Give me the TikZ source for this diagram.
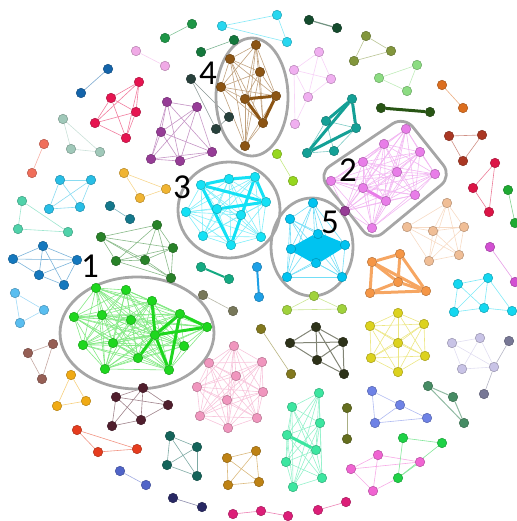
\documentclass[tikz,border=0pt]{standalone}
\usepackage{fontspec}
\setmainfont{Carlito}
\usetikzlibrary{backgrounds}
\definecolor{grnA}{RGB}{30,215,30}
\definecolor{vio}{RGB}{232,125,232}
\definecolor{cyn}{RGB}{20,225,245}
\definecolor{brn}{RGB}{140,85,20}
\definecolor{sky}{RGB}{0,195,240}
\definecolor{sage}{RGB}{160,200,185}
\definecolor{crim}{RGB}{230,20,80}
\definecolor{purp}{RGB}{150,60,150}
\definecolor{slate}{RGB}{40,65,60}
\definecolor{grnB}{RGB}{30,150,70}
\definecolor{grnC}{RGB}{20,120,60}
\definecolor{pinkA}{RGB}{240,170,230}
\definecolor{bluA}{RGB}{20,100,170}
\definecolor{cynB}{RGB}{40,215,240}
\definecolor{grnD}{RGB}{20,75,45}
\definecolor{oliv}{RGB}{130,150,60}
\definecolor{lgrn}{RGB}{140,220,130}
\definecolor{orgA}{RGB}{220,110,30}
\definecolor{dgrn}{RGB}{40,85,20}
\definecolor{lav}{RGB}{240,175,240}
\definecolor{tealA}{RGB}{20,160,150}
\definecolor{ygrn}{RGB}{150,215,30}
\definecolor{rust}{RGB}{170,55,35}
\definecolor{crimB}{RGB}{220,20,70}
\definecolor{grnE}{RGB}{30,170,50}
\definecolor{peach}{RGB}{240,190,150}
\definecolor{vioB}{RGB}{210,80,210}
\definecolor{cynC}{RGB}{20,215,240}
\definecolor{org}{RGB}{245,150,70}
\definecolor{ygrnB}{RGB}{160,210,60}
\definecolor{olivB}{RGB}{130,120,30}
\definecolor{dolv}{RGB}{45,50,25}
\definecolor{yel}{RGB}{220,210,30}
\definecolor{lgray}{RGB}{200,195,230}
\definecolor{slateB}{RGB}{120,120,150}
\definecolor{seag}{RGB}{70,140,100}
\definecolor{peri}{RGB}{110,130,230}
\definecolor{olivC}{RGB}{100,110,30}
\definecolor{aqua}{RGB}{60,230,160}
\definecolor{pinkB}{RGB}{240,100,210}
\definecolor{grnF}{RGB}{30,210,70}
\definecolor{mag}{RGB}{220,30,120}
\definecolor{navyA}{RGB}{40,40,100}
\definecolor{bviol}{RGB}{80,100,200}
\definecolor{dteal}{RGB}{20,100,90}
\definecolor{goldA}{RGB}{190,130,20}
\definecolor{redA}{RGB}{230,60,30}
\definecolor{maroon}{RGB}{80,30,45}
\definecolor{yelB}{RGB}{240,170,20}
\definecolor{brnB}{RGB}{150,95,85}
\definecolor{skyB}{RGB}{90,190,240}
\definecolor{bluB}{RGB}{20,120,190}
\definecolor{dgrnB}{RGB}{40,130,40}
\definecolor{tealB}{RGB}{20,120,140}
\definecolor{aquaB}{RGB}{80,210,170}
\definecolor{lblu}{RGB}{40,190,230}
\definecolor{yorg}{RGB}{240,180,50}
\definecolor{salm}{RGB}{240,110,90}
\definecolor{tealC}{RGB}{20,170,130}
\definecolor{golv}{RGB}{120,120,90}
\definecolor{skyC}{RGB}{30,160,230}
\definecolor{pinkC}{RGB}{240,150,190}
\begin{document}
\begin{tikzpicture}[x=1pt, y=-1pt,
  nd/.style={circle, inner sep=0pt, minimum size=9.5pt, draw=#1!75!black, fill=#1, line width=0.5pt},
  ln/.style={draw=#1!55, line width=0.6pt},
  tk/.style={draw=#1, line width=3pt},
  hull/.style={draw=black!35, line width=2.8pt},
  num/.style={font=\fontsize{35}{35}\selectfont, inner sep=0pt}
]
  \useasboundingbox (0,0) rectangle (516,521);

  % hulls round the five communities
  \draw[hull] (137,333) ellipse [x radius=77pt, y radius=56pt];
  \draw[hull, rounded corners=14pt] (318,174) -- (404,116) -- (452,176) -- (372,242) -- cycle;
  \draw[hull] (229,210) ellipse [x radius=51pt, y radius=48pt];
  \draw[hull] (252,97) ellipse [x radius=36pt, y radius=59pt];
  \draw[hull] (312,247) ellipse [x radius=41pt, y radius=49pt];

  % community 1
  \foreach [count=\i] \p in {(96,288),(126,290),(152,301),(180,314),(207,327),(74,317),(102,315),(131,320),(155,335),(184,346),(83,345),(113,343),(138,358),(105,369),(169,370)}
    \node[nd=grnA] (a\i) at \p {};
  % community 2
  \foreach [count=\i] \p in {(406,129),(384,144),(420,152),(363,162),(397,172),(435,174),(331,181),(363,188),(386,201),(415,195),(345,211),(372,228)}
    \node[nd=vio] (b\i) at \p {};
  \node[nd=purp] at (b11) {};
  % community 3
  \foreach [count=\i] \p in {(201,185),(229,179),(255,177),(266,202),(186,212),(217,209),(241,215),(203,236),(231,245),(261,237)}
    \node[nd=cyn] (c\i) at \p {};
  % community 4
  \foreach [count=\i] \p in {(256,45),(230,59),(260,72),(221,87),(245,99),(276,96),(263,123),(245,146)}
    \node[nd=brn] (d\i) at \p {};
  % community 5
  \foreach [count=\i] \p in {(313,203),(290,219),(291,249),(318,234),(345,245),(316,263),(287,277),(342,277)}
    \node[nd=sky] (e\i) at \p {};

  % the small groups
  \foreach [count=\i] \p in {(63,119),(71,149),(100,152)} \node[nd=sage] (sg\i) at \p {};
  \foreach [count=\i] \p in {(139,82),(111,98),(136,112),(95,123),(126,138)} \node[nd=crim] (cr\i) at \p {};
  \foreach [count=\i] \p in {(167,102),(197,107),(161,132),(151,159),(180,161),(212,152)} \node[nd=purp] (pu\i) at \p {};
  \foreach [count=\i] \p in {(191,79),(229,117),(216,129)} \node[nd=slate] (sl\i) at \p {};
  \foreach [count=\i] \p in {(165,38),(192,24)} \node[nd=grnB] (gb\i) at \p {};
  \foreach [count=\i] \p in {(201,52),(234,40)} \node[nd=grnC] (gc\i) at \p {};
  \foreach [count=\i] \p in {(136,51),(165,66)} \node[nd=pinkA] (pa\i) at \p {};
  \foreach [count=\i] \p in {(108,69),(81,93)} \node[nd=bluA] (ba\i) at \p {};
  \foreach [count=\i] \p in {(222,26),(277,15),(287,42)} \node[nd=cynB] (cb\i) at \p {};
  \foreach [count=\i] \p in {(309,20),(337,28)} \node[nd=grnD] (gd\i) at \p {};
  \foreach [count=\i] \p in {(366,36),(391,51),(354,61)} \node[nd=oliv] (ol\i) at \p {};
  \foreach [count=\i] \p in {(417,65),(379,78),(407,91)} \node[nd=lgrn] (lg\i) at \p {};
  \foreach [count=\i] \p in {(442,85),(463,108)} \node[nd=orgA] (oa\i) at \p {};
  \foreach [count=\i] \p in {(381,108),(430,112)} \node[nd=dgrn] (dg\i) at \p {};
  \foreach [count=\i] \p in {(319,52),(294,70),(331,79),(308,97),(295,124)} \node[nd=lav] (lv\i) at \p {};
  \foreach [count=\i] \p in {(352,99),(326,121),(356,128),(307,153),(334,151)} \node[nd=tealA] (ta\i) at \p {};
  \foreach [count=\i] \p in {(277,154),(293,181)} \node[nd=ygrn] (yg\i) at \p {};
  \foreach [count=\i] \p in {(449,136),(482,135),(463,161)} \node[nd=rust] (ru\i) at \p {};
  \foreach [count=\i] \p in {(495,163),(473,188),(489,212)} \node[nd=crimB] (ck\i) at \p {};
  \foreach [count=\i] \p in {(508,190),(515,223)} \node[nd=grnE] (ge\i) at \p {};
  \foreach [count=\i] \p in {(447,203),(407,227),(433,231),(464,227),(429,261),(459,255)} \node[nd=peach] (pe\i) at \p {};
  \foreach [count=\i] \p in {(490,247),(515,282)} \node[nd=vioB] (vb\i) at \p {};
  \foreach [count=\i] \p in {(458,284),(488,278),(454,312),(484,308),(512,311)} \node[nd=cynC] (cc\i) at \p {};
  \foreach [count=\i] \p in {(372,262),(400,254),(398,282),(370,293),(426,291)} \node[nd=org] (or\i) at \p {};
  \foreach [count=\i] \p in {(314,296),(287,310),(342,309)} \node[nd=ygrnB] (yb\i) at \p {};
  \foreach [count=\i] \p in {(261,329),(291,374)} \node[nd=olivB] (ob\i) at \p {};
  \foreach [count=\i] \p in {(316,327),(290,343),(343,342),(317,360),(344,374)} \node[nd=dolv] (dv\i) at \p {};
  \foreach [count=\i] \p in {(398,313),(370,326),(424,324),(398,343),(371,358),(425,356),(398,372)} \node[nd=yel] (ye\i) at \p {};
  \foreach [count=\i] \p in {(452,343),(480,338),(462,369),(494,367)} \node[nd=lgray] (lr\i) at \p {};
  \foreach [count=\i] \p in {(509,341),(484,394)} \node[nd=slateB] (sb\i) at \p {};
  \foreach [count=\i] \p in {(428,386),(453,397),(464,423)} \node[nd=seag] (se\i) at \p {};
  \foreach [count=\i] \p in {(372,391),(400,405),(375,423),(427,418)} \node[nd=peri] (pr\i) at \p {};
  \foreach [count=\i] \p in {(347,408),(347,439)} \node[nd=olivC] (oc\i) at \p {};
  \foreach [count=\i] \p in {(319,393),(292,407),(320,423),(287,435),(316,450),(286,462),(322,478),(293,487)} \node[nd=aqua] (aq\i) at \p {};
  \foreach [count=\i] \p in {(378,455),(351,469),(420,462),(373,491)} \node[nd=pinkB] (pb\i) at \p {};
  \foreach [count=\i] \p in {(403,438),(442,443),(398,478)} \node[nd=grnF] (gf\i) at \p {};
  \foreach [count=\i] \p in {(233,514),(261,511),(288,516),(318,510),(346,502)} \node[nd=mag] (mg\i) at \p {};
  \foreach [count=\i] \p in {(173,498),(202,507)} \node[nd=navyA] (nv\i) at \p {};
  \foreach [count=\i] \p in {(120,471),(146,485)} \node[nd=bviol] (bv\i) at \p {};
  \foreach [count=\i] \p in {(170,436),(197,447),(167,465),(197,476)} \node[nd=dteal] (dt\i) at \p {};
  \foreach [count=\i] \p in {(227,458),(256,451),(228,485),(259,482)} \node[nd=goldA] (go\i) at \p {};
  \foreach [count=\i] \p in {(77,430),(98,452),(137,449)} \node[nd=redA] (rd\i) at \p {};
  \foreach [count=\i] \p in {(143,388),(116,397),(168,405),(141,420),(112,426)} \node[nd=maroon] (mr\i) at \p {};
  \foreach [count=\i] \p in {(71,375),(57,406),(86,401)} \node[nd=yelB] (yl\i) at \p {};
  \foreach [count=\i] \p in {(53,344),(28,353),(42,379)} \node[nd=brnB] (bb\i) at \p {};
  \foreach [count=\i] \p in {(15,293),(44,310),(20,323)} \node[nd=skyB] (kb\i) at \p {};
  \foreach [count=\i] \p in {(43,246),(13,259),(77,260),(39,275),(64,285)} \node[nd=bluB] (bl\i) at \p {};
  \foreach [count=\i] \p in {(101,237),(157,225),(173,248),(116,261),(145,260),(171,278)} \node[nd=dgrnB] (dk\i) at \p {};
  \foreach [count=\i] \p in {(110,206),(130,219)} \node[nd=tealB] (tb\i) at \p {};
  \foreach [count=\i] \p in {(22,201),(18,229),(68,232)} \node[nd=aquaB] (ab\i) at \p {};
  \foreach [count=\i] \p in {(60,180),(91,180),(49,209),(80,207)} \node[nd=lblu] (lb\i) at \p {};
  \foreach [count=\i] \p in {(124,173),(166,189),(140,198)} \node[nd=yorg] (yo\i) at \p {};
  \foreach [count=\i] \p in {(44,144),(32,173)} \node[nd=salm] (sa\i) at \p {};
  \foreach [count=\i] \p in {(201,267),(229,279)} \node[nd=tealC] (tc\i) at \p {};
  \foreach [count=\i] \p in {(203,295),(233,311)} \node[nd=golv] (gv\i) at \p {};
  \foreach [count=\i] \p in {(257,267),(259,297)} \node[nd=skyC] (kc\i) at \p {};
  \foreach [count=\i] \p in {(234,346),(209,363),(262,362),(236,376),(197,387),(263,392),(227,400),(200,416),(257,418),(228,428)} \node[nd=pinkC] (pc\i) at \p {};

  \begin{pgfonlayer}{background}
    % dense groups: every pair linked
    \foreach \u in {1,...,15} \foreach \v in {1,...,15} {\ifnum\u<\v \draw[ln=grnA] (a\u) -- (a\v);\fi}
    \foreach \u in {1,...,12} \foreach \v in {1,...,12} {\ifnum\u<\v \draw[ln=vio] (b\u) -- (b\v);\fi}
    \foreach \u in {1,...,10} \foreach \v in {1,...,10} {\ifnum\u<\v \draw[ln=cyn] (c\u) -- (c\v);\fi}
    \foreach \u in {1,...,8} \foreach \v in {1,...,8} {\ifnum\u<\v \draw[ln=brn] (d\u) -- (d\v);\fi}
    \foreach \u in {1,...,8} \foreach \v in {1,...,8} {\ifnum\u<\v \draw[ln=sky] (e\u) -- (e\v);\fi}
    \foreach \u in {1,...,10} \foreach \v in {1,...,10} {\ifnum\u<\v \draw[ln=pinkC] (pc\u) -- (pc\v);\fi}
    \foreach \u in {1,...,5} \foreach \v in {1,...,5} {\ifnum\u<\v \draw[ln=crim] (cr\u) -- (cr\v);\fi}
    \foreach \u in {1,...,6} \foreach \v in {1,...,6} {\ifnum\u<\v \draw[ln=purp] (pu\u) -- (pu\v);\fi}
    \foreach \u in {1,...,6} \foreach \v in {1,...,6} {\ifnum\u<\v \draw[ln=dgrnB] (dk\u) -- (dk\v);\fi}
    \foreach \u in {1,...,6} \foreach \v in {1,...,6} {\ifnum\u<\v \draw[ln=peach] (pe\u) -- (pe\v);\fi}
    \foreach \u in {1,...,7} \foreach \v in {1,...,7} {\ifnum\u<\v \draw[ln=yel] (ye\u) -- (ye\v);\fi}
    \foreach \u in {1,...,8} \foreach \v in {1,...,8} {\ifnum\u<\v \draw[ln=aqua] (aq\u) -- (aq\v);\fi}

    % heavy links
    \foreach \u/\v in {3/9,9/4,9/5,4/5,4/15,9/15,9/13} \draw[tk=grnA] (a\u) -- (a\v);
    \draw[tk=vio] (b8) -- (b9);
    \foreach \u/\v in {1/2,2/3,1/4,3/4,1/9,3/9,6/4} \draw[tk=cyn] (c\u) -- (c\v);
    \foreach \u/\v in {5/6,6/7,5/7} \draw[tk=brn] (d\u) -- (d\v);
    \fill[sky] (e3.center) -- (e4.center) -- (e5.center) -- (e6.center) -- cycle;
    \foreach \u/\v in {3/4,4/5,5/6,6/3,3/5,4/6} \draw[tk=sky] (e\u) -- (e\v);
    \draw[tk=aqua] (aq4) -- (aq5);

    % sparse groups
    \foreach \u/\v in {1/2,1/3,2/3} \draw[ln=sage] (sg\u) -- (sg\v);
    \foreach \u/\v in {1/2,1/3,2/3} \draw[ln=slate] (sl\u) -- (sl\v);
    \draw[ln=grnB] (gb1) -- (gb2);
    \draw[ln=grnC] (gc1) -- (gc2);
    \draw[ln=pinkA] (pa1) -- (pa2);
    \draw[ln=bluA] (ba1) -- (ba2);
    \foreach \u/\v in {1/2,2/3,1/3} \draw[ln=cynB] (cb\u) -- (cb\v);
    \draw[draw=grnD!60, line width=1.2pt] (gd1) -- (gd2);
    \foreach \u/\v in {1/2,2/3,1/3} \draw[ln=oliv] (ol\u) -- (ol\v);
    \foreach \u/\v in {1/2,1/3,2/3} \draw[ln=lgrn] (lg\u) -- (lg\v);
    \draw[ln=orgA] (oa1) -- (oa2);
    \draw[tk=dgrn] (dg1) -- (dg2);
    \foreach \u/\v in {1/2,1/3,1/4,2/3,2/4,3/4,4/5,2/5} \draw[ln=lav] (lv\u) -- (lv\v);
    \foreach \u/\v in {2/4,2/5,4/5,2/3,5/3} \draw[ln=tealA] (ta\u) -- (ta\v);
    \foreach \u/\v in {1/4,1/3,3/4,1/2} \draw[tk=tealA] (ta\u) -- (ta\v);
    \draw[ln=ygrn] (yg1) -- (yg2);
    \foreach \u/\v in {1/2,1/3,2/3} \draw[ln=rust] (ru\u) -- (ru\v);
    \foreach \u/\v in {1/2,1/3,2/3} \draw[ln=crimB] (ck\u) -- (ck\v);
    \draw[ln=grnE] (ge1) -- (ge2);
    \draw[ln=vioB] (vb1) -- (vb2);
    \foreach \u/\v in {1/2,1/3,1/4,2/3,2/4,3/4,4/5,2/5} \draw[ln=cynC] (cc\u) -- (cc\v);
    \foreach \u/\v in {1/2,1/4,1/3,1/5,2/3,2/5,4/5,4/3,3/5} \draw[tk=org!85] (or\u) -- (or\v);
    \foreach \u/\v in {1/2,1/3,2/3} \draw[ln=ygrnB] (yb\u) -- (yb\v);
    \draw[ln=olivB] (ob1) -- (ob2);
    \foreach \u/\v in {1/2,1/3,1/4,1/5,2/3,2/4,3/5,4/5,3/4} \draw[draw=dolv!60, line width=1pt] (dv\u) -- (dv\v);
    \foreach \u/\v in {1/2,1/3,1/4,2/4,2/3,3/4} \draw[ln=lgray] (lr\u) -- (lr\v);
    \draw[ln=slateB] (lr4) -- (sb1);
    \draw[ln=slateB] (lr4) -- (sb2);
    \foreach \u/\v in {1/2,2/3,1/3} \draw[draw=seag!60, line width=1pt] (se\u) -- (se\v);
    \foreach \u/\v in {1/2,1/3,2/3,2/4,3/4} \draw[ln=peri] (pr\u) -- (pr\v);
    \draw[ln=olivC] (oc1) -- (oc2);
    \foreach \u/\v in {1/2,1/3,2/3,2/4,1/4} \draw[ln=pinkB] (pb\u) -- (pb\v);
    \foreach \u/\v in {1/2,1/3,2/3} \draw[ln=grnF] (gf\u) -- (gf\v);
    \draw[ln=grnF] (gf3) -- (pb3);
    \draw[ln=pinkB] (pb4) -- (gf3);
    \foreach \u/\v in {1/2,2/3,4/5} \draw[ln=mag] (mg\u) -- (mg\v);
    \draw[ln=navyA] (nv1) -- (nv2);
    \draw[ln=bviol] (bv1) -- (bv2);
    \foreach \u/\v in {1/2,1/3,1/4,2/3,2/4,3/4} \draw[ln=dteal] (dt\u) -- (dt\v);
    \foreach \u/\v in {1/2,1/3,1/4,2/3,2/4,3/4} \draw[ln=goldA] (go\u) -- (go\v);
    \foreach \u/\v in {1/2,1/3,2/3} \draw[ln=redA] (rd\u) -- (rd\v);
    \foreach \u/\v in {1/2,1/3,1/4,1/5,2/3,2/5,3/4,4/5,2/4} \draw[ln=maroon] (mr\u) -- (mr\v);
    \foreach \u/\v in {1/2,1/3,2/3} \draw[ln=yelB] (yl\u) -- (yl\v);
    \foreach \u/\v in {1/2,1/3,2/3} \draw[ln=brnB] (bb\u) -- (bb\v);
    \foreach \u/\v in {1/2,1/3,2/3} \draw[ln=skyB] (kb\u) -- (kb\v);
    \foreach \u/\v in {1/2,1/3,1/4,1/5,2/3,2/4,3/4,3/5,4/5} \draw[ln=bluB] (bl\u) -- (bl\v);
    \draw[ln=tealB] (tb1) -- (tb2);
    \foreach \u/\v in {1/2,1/3,2/3} \draw[ln=aquaB] (ab\u) -- (ab\v);
    \foreach \u/\v in {1/2,1/3,1/4,2/3,2/4,3/4} \draw[ln=lblu] (lb\u) -- (lb\v);
    \foreach \u/\v in {1/2,1/3,2/3} \draw[ln=yorg] (yo\u) -- (yo\v);
    \draw[ln=salm] (sa1) -- (sa2);
    \draw[draw=tealC, line width=2pt] (tc1) -- (tc2);
    \draw[ln=golv] (gv1) -- (gv2);
    \draw[draw=skyC, line width=2pt] (kc1) -- (kc2);
  \end{pgfonlayer}

  % community numbers
  \node[num] (n1) at (90,266) {1};
  \node[num] (n2) at (348,170) {2};
  \node[num] (n3) at (182,187) {3};
  \node[num] (n4) at (208,73) {4};
  \node[num] (n5) at (330,222) {5};
\end{tikzpicture}
\end{document}
